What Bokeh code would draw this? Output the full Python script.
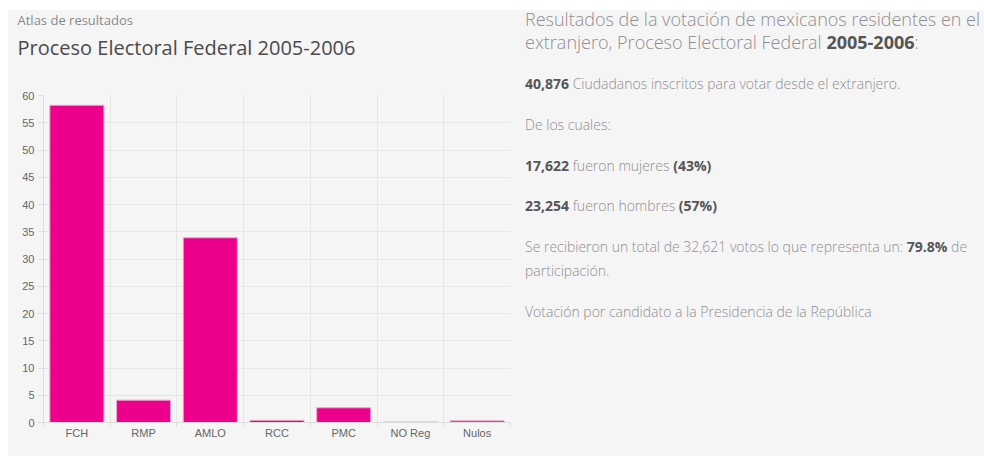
from bokeh.plotting import figure
from bokeh.models import FixedTicker, Title, Div, ColumnDataSource
from bokeh.layouts import row
from bokeh.embed import file_html
from bokeh.resources import INLINE

# ---- data ----
candidates = ["FCH", "RMP", "AMLO", "RCC", "PMC", "NO Reg", "Nulos"]
percent = [58.2, 4.1, 33.9, 0.4, 2.7, 0.1, 0.3]
y_ticks = [0, 5, 10, 15, 20, 25, 30, 35, 40, 45, 50, 55, 60]

BG = "#f5f5f5"
centers = [i + 0.5 for i in range(len(candidates))]
bounds = [float(i) for i in range(len(candidates) + 1)]

src = ColumnDataSource(dict(x=centers, top=percent, name=candidates))

p = figure(width=506, height=446, x_range=(0, len(candidates)), y_range=(0, 60),
           output_backend="svg", toolbar_location=None,
           background_fill_color=BG, border_fill_color=BG,
           min_border_left=35, min_border_right=4, min_border_bottom=34, min_border_top=0,
           outline_line_color=None)

p.vbar(x="x", top="top", width=0.81, source=src,
       fill_color="#ec008c", line_color="#efa6cc", line_width=1)

# titles: p.title is outermost; the first item in p.above sits nearest the plot
p.title.text = "Atlas de resultados"
p.title.text_font = "Open Sans"
p.title.text_font_size = "13px"
p.title.text_font_style = "normal"
p.title.text_color = "#8a8a8a"
p.title.align = "left"
p.title.offset = -26
p.title.standoff = -3
# blank spacer between the heading and the plot area
p.add_layout(Title(text=" ", text_font_size="1px", standoff=27), "above")
p.add_layout(Title(text="Proceso Electoral Federal 2005-2006", text_font="Open Sans",
                   text_font_size="20px", text_font_style="normal", text_color="#4a4a4a",
                   align="left", offset=-26, standoff=9), "above")

# axes
axis_color = "#dcdcdc"
label_color = "#666666"
xa = p.xaxis[0]
xa.ticker = FixedTicker(ticks=centers, minor_ticks=bounds)
xa.major_label_overrides = {c: n for c, n in zip(centers, candidates)}
xa.major_tick_line_color = None
xa.minor_tick_line_color = axis_color
xa.minor_tick_out = 4
xa.minor_tick_in = 0
xa.axis_line_color = axis_color
xa.major_label_text_font = "Liberation Sans"
xa.major_label_text_font_size = "11px"
xa.major_label_text_color = label_color
xa.major_label_standoff = -2

ya = p.yaxis[0]
ya.ticker = FixedTicker(ticks=y_ticks)
ya.minor_tick_line_color = None
ya.major_tick_line_color = axis_color
ya.major_tick_out = 5
ya.major_tick_in = 0
ya.axis_line_color = axis_color
ya.major_label_text_font = "Liberation Sans"
ya.major_label_text_font_size = "11px"
ya.major_label_text_color = label_color
ya.major_label_standoff = 4

p.xgrid.ticker = FixedTicker(ticks=bounds)
p.xgrid.grid_line_color = "#e6e6e6"
p.ygrid.grid_line_color = "#e6e6e6"

# right-hand text panel
light = "color:#8f8f8f;"
bold = "font-weight:700;color:#555555;"
par = "font-size:14px;line-height:24px;margin:0 0 16.8px 0;"
html = f"""
<div style="font-family:'Open Sans';font-weight:300;{light}padding-left:6px;margin-top:-7px;white-space:nowrap;">
<div style="font-size:18px;line-height:23px;margin:0 0 18px 0;">Resultados de la votación de mexicanos residentes en el<br>extranjero, Proceso Electoral Federal <span style="{bold}">2005-2006</span>:</div>
<div style="{par}"><span style="{bold}">40,876</span> Ciudadanos inscritos para votar desde el extranjero.</div>
<div style="{par}">De los cuales:</div>
<div style="{par}"><span style="{bold}">17,622</span> fueron mujeres <span style="{bold}">(43%)</span></div>
<div style="{par}"><span style="{bold}">23,254</span> fueron hombres <span style="{bold}">(57%)</span></div>
<div style="{par}">Se recibieron un total de 32,621 votos lo que representa un: <span style="{bold}">79.8%</span> de<br>participación.</div>
<div style="{par}">Votación por candidato a la Presidencia de la República</div>
</div>
"""
d = Div(text=html, width=470, height=446, styles={"background-color": BG})

layout = row(p, d, styles={"background-color": BG, "margin": "10px 0 0 8px"})

open("out.html", "w").write(file_html(layout, INLINE))
